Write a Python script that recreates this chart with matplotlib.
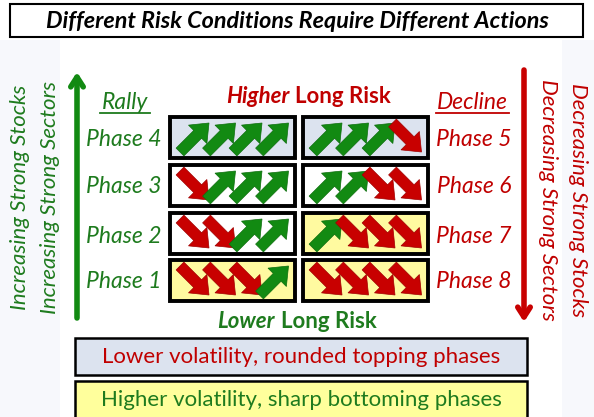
import matplotlib.pyplot as plt
import matplotlib.patches as mpatches

plt.rcParams['font.family'] = ['Lato', 'DejaVu Sans']

# data
title = "Different Risk Conditions Require Different Actions"
left_phases = ["Phase 4", "Phase 3", "Phase 2", "Phase 1"]
right_phases = ["Phase 5", "Phase 6", "Phase 7", "Phase 8"]
# U = green up arrow, D = red down arrow
left_arrows = ["UUUU", "DUUU", "DDUU", "DDDU"]
right_arrows = ["UUUD", "UUDD", "UDDD", "DDDD"]
left_fill = ["blue", "white", "white", "yellow"]
right_fill = ["blue", "white", "yellow", "yellow"]
bottom_notes = ["Lower volatility, rounded topping phases",
                "Higher volatility, sharp bottoming phases"]

GREEN = "#1e7b1e"
RED = "#c00000"
ARROW_GREEN = "#128a12"
ARROW_RED = "#c80000"
FILLS = {"blue": "#dce3ef", "white": "#ffffff", "yellow": "#fffaa0"}

fig = plt.figure(figsize=(5.94, 4.17), dpi=100)
ax = fig.add_axes([0, 0, 1, 1])
ax.set_xlim(0, 594)
ax.set_ylim(417, 0)
ax.axis('off')

# faint side shading
ax.add_patch(mpatches.Rectangle((0, 40), 60, 377, color="#f7f8fc", lw=0, zorder=0))
ax.add_patch(mpatches.Rectangle((562, 40), 32, 377, color="#f7f8fc", lw=0, zorder=0))

# title box
ax.add_patch(mpatches.Rectangle((10, 4), 573, 33, fc="white", ec="black", lw=1.5))
ax.text(297, 21, title, ha='center', va='center', fontsize=16.8,
        fontweight='bold', fontstyle='italic', color="black")

row_top = [117, 165, 213, 260]
box_h = 41
col_x = [170, 303]
box_w = 125


def draw_arrow(x0, yb, yt, kind):
    if kind == "U":
        ar = mpatches.FancyArrow(x0, yb, 29, -(yb - yt), width=11, head_width=26,
                                 head_length=16, length_includes_head=True,
                                 fc=ARROW_GREEN, ec="#0d6e0d", lw=0.5, zorder=3)
    else:
        ar = mpatches.FancyArrow(x0, yt, 29, (yb - yt), width=11, head_width=26,
                                 head_length=16, length_includes_head=True,
                                 fc=ARROW_RED, ec="#a00000", lw=0.5, zorder=3)
    ax.add_patch(ar)


for c, (pats, fills) in enumerate([(left_arrows, left_fill), (right_arrows, right_fill)]):
    for r in range(4):
        x = col_x[c]
        y = row_top[r]
        ax.add_patch(mpatches.Rectangle((x, y), box_w, box_h, fc=FILLS[fills[r]],
                                        ec="black", lw=2.8, zorder=2))
        for i, k in enumerate(pats[r]):
            draw_arrow(x + 10 + i * 26.5, y + box_h - 6, y + 6, k)

# phase labels
lab_y = [140, 186, 236, 281]
for r in range(4):
    ax.text(124, lab_y[r], left_phases[r], ha='center', va='center', fontsize=16.5,
            fontstyle='italic', color=GREEN)
    ax.text(474, lab_y[r], right_phases[r], ha='center', va='center', fontsize=16.5,
            fontstyle='italic', color=RED)

ax.text(125, 102, "Rally", ha='center', va='center', fontsize=16.5,
        fontstyle='italic', color=GREEN)
ax.plot([100, 150], [113, 113], color=GREEN, lw=1.3)
ax.text(472, 102, "Decline", ha='center', va='center', fontsize=16.5,
        fontstyle='italic', color=RED)
ax.plot([436, 509], [113, 113], color=RED, lw=1.3)

# risk labels
ax.text(290, 96, "Higher", ha='right', va='center', fontsize=16,
        fontweight='bold', fontstyle='italic', color=RED)
ax.text(295, 96, "Long Risk", ha='left', va='center', fontsize=16,
        fontweight='bold', color=RED)
ax.text(275, 321, "Lower", ha='right', va='center', fontsize=16,
        fontweight='bold', fontstyle='italic', color=GREEN)
ax.text(281, 321, "Long Risk", ha='left', va='center', fontsize=16,
        fontweight='bold', color=GREEN)

# vertical arrows
ax.annotate("", xy=(77, 72), xytext=(77, 318),
            arrowprops=dict(arrowstyle="->,head_length=0.7,head_width=0.45",
                            color=ARROW_GREEN, lw=4, shrinkA=0, shrinkB=0))
ax.annotate("", xy=(524, 322), xytext=(524, 70),
            arrowprops=dict(arrowstyle="->,head_length=0.7,head_width=0.45",
                            color=ARROW_RED, lw=4, shrinkA=0, shrinkB=0))

# side rotated texts
ax.text(20, 197, "Increasing Strong Stocks", rotation=90, ha='center', va='center',
        fontsize=16, fontstyle='italic', color=GREEN)
ax.text(50, 197, "Increasing Strong Sectors", rotation=90, ha='center', va='center',
        fontsize=16, fontstyle='italic', color=GREEN)
ax.text(548, 200, "Decreasing Strong Sectors", rotation=270, ha='center', va='center',
        fontsize=16, fontstyle='italic', color=RED)
ax.text(578, 200, "Decreasing Strong Stocks", rotation=270, ha='center', va='center',
        fontsize=16, fontstyle='italic', color=RED)

# bottom notes
ax.add_patch(mpatches.Rectangle((75, 338), 452, 37, fc=FILLS["blue"], ec="black", lw=1.8))
ax.text(301, 357, bottom_notes[0], ha='center', va='center', fontsize=16, color=RED)
ax.add_patch(mpatches.Rectangle((75, 381), 452, 40, fc="#ffff9c", ec="black", lw=1.8))
ax.text(301, 400, bottom_notes[1], ha='center', va='center', fontsize=16, color=GREEN)

fig.savefig("out.png", dpi=100)
